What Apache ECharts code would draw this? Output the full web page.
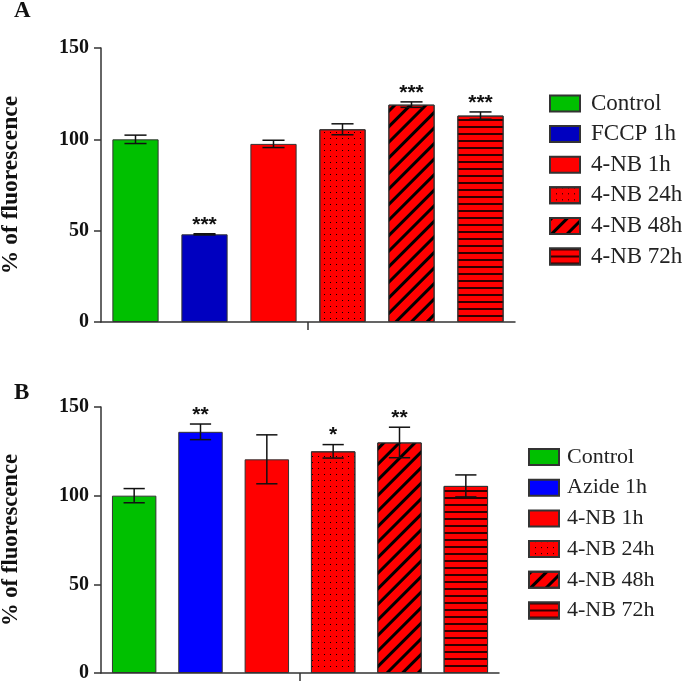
<!DOCTYPE html>
<html>
<head>
<meta charset="utf-8">
<script src="https://cdn.jsdelivr.net/npm/echarts@6/dist/echarts.min.js"></script>
<style>
  html, body { margin: 0; padding: 0; background: #fff; }
  #chart { width: 684px; height: 683px; }
</style>
</head>
<body>
<div id="chart"></div>
<script>
// 数据：两个面板，各 6 组
const categoriesA = ["Control", "FCCP 1h", "4-NB 1h", "4-NB 24h", "4-NB 48h", "4-NB 72h"];
const meanA = [100, 48, 97.5, 105.5, 119, 113];
const errA = [2.3, 0.3, 2, 3, 1.5, 2];
const starsA = ["", "***", "", "", "***", "***"];

const categoriesB = ["Control", "Azide 1h", "4-NB 1h", "4-NB 24h", "4-NB 48h", "4-NB 72h"];
const meanB = [100, 136, 120.5, 125, 130, 105.5];
const errB = [4, 4.4, 13.8, 3.8, 8.6, 6.2];
const starsB = ["", "**", "", "*", "**", ""];

const myChart = echarts.init(document.getElementById("chart"));

const serif = "'Liberation Serif', 'Times New Roman', serif";
const colorsA = ["#00C000", "#0000C0", "#FF0000", "#FF0000", "#FF0000", "#FF0000"];
const colorsB = ["#00C000", "#0000FF", "#FF0000", "#FF0000", "#FF0000", "#FF0000"];

// 花纹
const decals = [
  null,
  null,
  null,
  { symbol: "rect", symbolSize: 1, color: "#000", dashArrayX: [1, 5], dashArrayY: [1, 4.5] },
  { symbol: "rect", symbolSize: 1, color: "#000", dashArrayX: [1, 0], dashArrayY: [2.5, 8], rotation: -Math.PI / 4 },
  { symbol: "rect", symbolSize: 1, color: "#300000", dashArrayX: [1, 0], dashArrayY: [1.2, 4.4] },
];

function barSeries(cats, means, colors, axisIdx) {
  return cats.map((name, i) => ({
    type: "bar",
    name: name,
    xAxisIndex: axisIdx,
    yAxisIndex: axisIdx,
    barWidth: "67%",
    barGap: "-100%",
    data: cats.map((c, j) => (j === i ? means[i] : "-")),
    itemStyle: {
      color: colors[i],
      borderColor: "#333",
      borderWidth: 1,
      decal: decals[i] || undefined,
    },
  }));
}

function errSeries(means, errs, stars, axisIdx) {
  return {
    type: "custom",
    xAxisIndex: axisIdx,
    yAxisIndex: axisIdx,
    z: 10,
    silent: true,
    data: means.map((m, i) => [i, m, errs[i]]),
    renderItem: function (params, api) {
      const i = api.value(0);
      const m = api.value(1);
      const e = api.value(2);
      const top = api.coord([i, m + e]);
      const bot = api.coord([i, m - e]);
      const half = api.size([1, 0])[0] * 0.16;
      const st = { stroke: "#111", lineWidth: 1.5 };
      const kids = [
        { type: "line", shape: { x1: top[0], y1: top[1], x2: bot[0], y2: bot[1] }, style: st },
        { type: "line", shape: { x1: top[0] - half, y1: top[1], x2: top[0] + half, y2: top[1] }, style: st },
        { type: "line", shape: { x1: bot[0] - half, y1: bot[1], x2: bot[0] + half, y2: bot[1] }, style: st },
      ];
      if (stars[i]) {
        kids.push({
          type: "text",
          style: {
            text: stars[i],
            x: top[0],
            y: top[1] - 9,
            align: "center",
            verticalAlign: "middle",
            font: "bold 21px 'Liberation Sans', Arial, sans-serif",
            fill: "#111",
          },
        });
      }
      return { type: "group", children: kids };
    },
  };
}

function yAxisCfg(idx, nameSize) {
  return {
    type: "value",
    gridIndex: idx,
    min: 0,
    max: 150,
    interval: 50,
    name: "% of fluorescence",
    nameLocation: "middle",
    nameGap: 78,
    nameTextStyle: { fontFamily: serif, fontWeight: "bold", fontSize: nameSize, color: "#111" },
    axisLine: { show: true, lineStyle: { color: "#333", width: 1.5 } },
    axisTick: { show: true, length: 7, lineStyle: { color: "#333", width: 1.5 } },
    axisLabel: { fontFamily: serif, fontWeight: "bold", fontSize: 20, color: "#111", margin: 12 },
    splitLine: { show: false },
  };
}

function xAxisCfg(idx, cats) {
  return {
    type: "category",
    gridIndex: idx,
    data: cats,
    axisLine: { show: true, lineStyle: { color: "#333", width: 1.5 } },
    axisTick: { show: false },
    axisLabel: { show: false },
  };
}

// 中间那一个小刻度
function midTickAxis(idx, n) {
  return {
    type: "value",
    gridIndex: idx,
    position: "bottom",
    min: 0,
    max: n,
    axisLine: { show: false },
    axisTick: { show: true, length: 8, customValues: [n / 2], lineStyle: { color: "#333", width: 1.5 } },
    axisLabel: { show: false },
    splitLine: { show: false },
  };
}

function legendCfg(cats, left, top, size, pad, gap) {
  return {
    orient: "vertical",
    left: left,
    top: top,
    data: cats,
    icon: "rect",
    itemWidth: 30,
    itemHeight: 16,
    itemGap: gap,
    selectedMode: false,
    textStyle: { fontFamily: serif, fontSize: size, color: "#222", padding: [0, 0, 0, pad] },
  };
}

const option = {
  backgroundColor: "#fff",
  animation: false,
  grid: [
    { left: 101, top: 48, width: 414, height: 274, outerBoundsMode: "none" },
    { left: 101, top: 407, width: 398, height: 266, outerBoundsMode: "none" },
  ],
  xAxis: [
    xAxisCfg(0, categoriesA),
    xAxisCfg(1, categoriesB),
    midTickAxis(0, categoriesA.length),
    midTickAxis(1, categoriesB.length),
  ],
  yAxis: [yAxisCfg(0, 23.5), yAxisCfg(1, 22.7)],
  legend: [
    legendCfg(categoriesA, 544, 87, 23, 6, 7.6),
    legendCfg(categoriesB, 523, 441, 22, 3, 8.7),
  ],
  graphic: [
    { type: "text", left: 14, top: 0, style: { text: "A", font: "bold 23px " + serif, fill: "#111" } },
    { type: "text", left: 14, top: 382, style: { text: "B", font: "bold 23px " + serif, fill: "#111" } },
  ],
  series: [
    ...barSeries(categoriesA, meanA, colorsA, 0),
    ...barSeries(categoriesB, meanB, colorsB, 1),
    errSeries(meanA, errA, starsA, 0),
    errSeries(meanB, errB, starsB, 1),
  ],
};

myChart.setOption(option);
// 字体加载后再画一次
if (document.fonts && document.fonts.load) {
  Promise.all([
    document.fonts.load("20px 'Liberation Serif'"),
    document.fonts.load("bold 20px 'Liberation Serif'"),
  ]).then(() => {
    myChart.clear();
    myChart.setOption(option);
  });
}
</script>
</body>
</html>
